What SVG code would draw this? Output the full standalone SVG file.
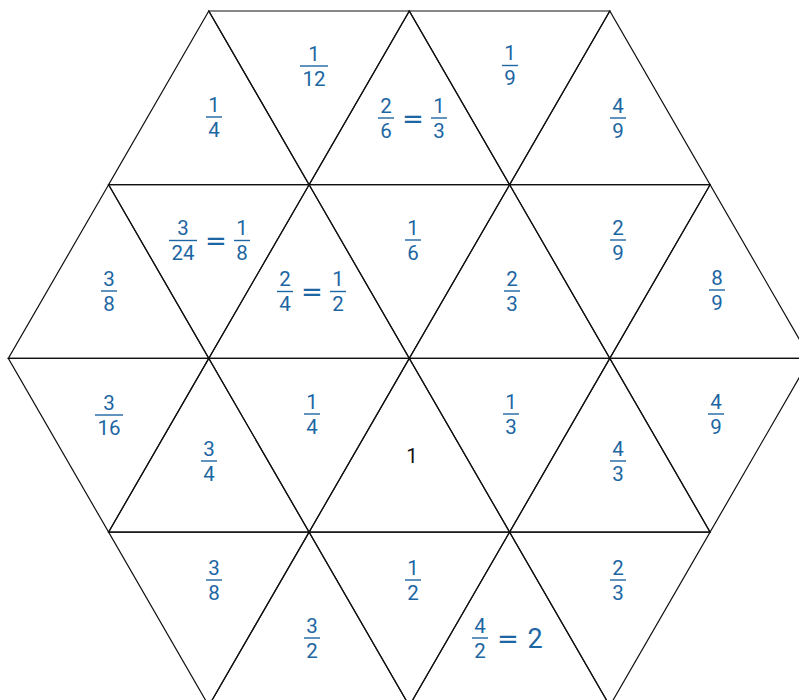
<svg xmlns="http://www.w3.org/2000/svg" width="799" height="700" viewBox="0 0 799 700">
<style>
.tri{fill:none;stroke:#111;stroke-width:1.2;stroke-linejoin:miter}
.f{font-family:Roboto,"Liberation Sans",sans-serif;font-size:20.5px;fill:#1c66a3;text-anchor:middle}
.eq{font-family:"DejaVu Sans",sans-serif;font-size:26px;fill:#1c66a3;text-anchor:middle}
.big{font-family:Roboto,"Liberation Sans",sans-serif;font-size:27px;fill:#1c66a3;text-anchor:middle}
.k{font-family:Roboto,"Liberation Sans",sans-serif;font-size:20.5px;fill:#111;text-anchor:middle}
.bar{stroke:#1c66a3;stroke-width:1.4}
</style>
<rect width="799" height="700" fill="#fff"/>
<g id="row0">
<g id="t0a"><polygon class="tri" points="208.8,11 108.6,184.7 309.1,184.7"/><g transform="translate(214,117)"><text class="f" y="-5.5">1</text><line class="bar" x1="-8" x2="8"/><text class="f" y="19.5">4</text></g></g>
<g id="t0b"><polygon class="tri" points="208.8,11 409.3,11 309.1,184.7"/><g transform="translate(314,66)"><text class="f" y="-5.5">1</text><line class="bar" x1="-14" x2="14"/><text class="f" y="19.5">12</text></g></g>
<g id="t0c"><polygon class="tri" points="409.3,11 309.1,184.7 509.6,184.7"/><g transform="translate(386,118)"><text class="f" y="-5.5">2</text><line class="bar" x1="-8" x2="8"/><text class="f" y="19.5">6</text></g><text class="eq" x="413" y="127.5">=</text><g transform="translate(439,118)"><text class="f" y="-5.5">1</text><line class="bar" x1="-8" x2="8"/><text class="f" y="19.5">3</text></g></g>
<g id="t0d"><polygon class="tri" points="409.3,11 609.8,11 509.6,184.7"/><g transform="translate(510,65.5)"><text class="f" y="-5.5">1</text><line class="bar" x1="-8" x2="8"/><text class="f" y="19.5">9</text></g></g>
<g id="t0e"><polygon class="tri" points="609.8,11 509.6,184.7 710.1,184.7"/><g transform="translate(618,118)"><text class="f" y="-5.5">4</text><line class="bar" x1="-8" x2="8"/><text class="f" y="19.5">9</text></g></g>
</g>
<g id="row1">
<g id="t1a"><polygon class="tri" points="108.6,184.7 8.3,358.4 208.8,358.4"/><g transform="translate(109,291)"><text class="f" y="-5.5">3</text><line class="bar" x1="-8" x2="8"/><text class="f" y="19.5">8</text></g></g>
<g id="t1b"><polygon class="tri" points="108.6,184.7 309.1,184.7 208.8,358.4"/><g transform="translate(183,240.5)"><text class="f" y="-5.5">3</text><line class="bar" x1="-14" x2="14"/><text class="f" y="19.5">24</text></g><text class="eq" x="216" y="250">=</text><g transform="translate(242,240.5)"><text class="f" y="-5.5">1</text><line class="bar" x1="-8" x2="8"/><text class="f" y="19.5">8</text></g></g>
<g id="t1c"><polygon class="tri" points="309.1,184.7 208.8,358.4 409.3,358.4"/><g transform="translate(285,291.5)"><text class="f" y="-5.5">2</text><line class="bar" x1="-8" x2="8"/><text class="f" y="19.5">4</text></g><text class="eq" x="312" y="301">=</text><g transform="translate(338,291.5)"><text class="f" y="-5.5">1</text><line class="bar" x1="-8" x2="8"/><text class="f" y="19.5">2</text></g></g>
<g id="t1d"><polygon class="tri" points="309.1,184.7 509.6,184.7 409.3,358.4"/><g transform="translate(413,240)"><text class="f" y="-5.5">1</text><line class="bar" x1="-8" x2="8"/><text class="f" y="19.5">6</text></g></g>
<g id="t1e"><polygon class="tri" points="509.6,184.7 409.3,358.4 609.8,358.4"/><g transform="translate(512,291)"><text class="f" y="-5.5">2</text><line class="bar" x1="-8" x2="8"/><text class="f" y="19.5">3</text></g></g>
<g id="t1f"><polygon class="tri" points="509.6,184.7 710.1,184.7 609.8,358.4"/><g transform="translate(618,240)"><text class="f" y="-5.5">2</text><line class="bar" x1="-8" x2="8"/><text class="f" y="19.5">9</text></g></g>
<g id="t1g"><polygon class="tri" points="710.1,184.7 609.8,358.4 810.3,358.4"/><g transform="translate(717,290)"><text class="f" y="-5.5">8</text><line class="bar" x1="-8" x2="8"/><text class="f" y="19.5">9</text></g></g>
</g>
<g id="row2">
<g id="t2a"><polygon class="tri" points="8.3,358.4 208.8,358.4 108.6,532.1"/><g transform="translate(109,415)"><text class="f" y="-5.5">3</text><line class="bar" x1="-14" x2="14"/><text class="f" y="19.5">16</text></g></g>
<g id="t2b"><polygon class="tri" points="208.8,358.4 108.6,532.1 309.1,532.1"/><g transform="translate(209,461)"><text class="f" y="-5.5">3</text><line class="bar" x1="-8" x2="8"/><text class="f" y="19.5">4</text></g></g>
<g id="t2c"><polygon class="tri" points="208.8,358.4 409.3,358.4 309.1,532.1"/><g transform="translate(312,414)"><text class="f" y="-5.5">1</text><line class="bar" x1="-8" x2="8"/><text class="f" y="19.5">4</text></g></g>
<g id="t2d"><polygon class="tri" points="409.3,358.4 309.1,532.1 509.6,532.1"/><text class="k" x="412" y="463">1</text></g>
<g id="t2e"><polygon class="tri" points="409.3,358.4 609.8,358.4 509.6,532.1"/><g transform="translate(511,414)"><text class="f" y="-5.5">1</text><line class="bar" x1="-8" x2="8"/><text class="f" y="19.5">3</text></g></g>
<g id="t2f"><polygon class="tri" points="609.8,358.4 509.6,532.1 710.1,532.1"/><g transform="translate(618,461)"><text class="f" y="-5.5">4</text><line class="bar" x1="-8" x2="8"/><text class="f" y="19.5">3</text></g></g>
<g id="t2g"><polygon class="tri" points="609.8,358.4 810.3,358.4 710.1,532.1"/><g transform="translate(716,414)"><text class="f" y="-5.5">4</text><line class="bar" x1="-8" x2="8"/><text class="f" y="19.5">9</text></g></g>
</g>
<g id="row3">
<g id="t3a"><polygon class="tri" points="108.6,532.1 309.1,532.1 208.8,705.8"/><g transform="translate(214,580)"><text class="f" y="-5.5">3</text><line class="bar" x1="-8" x2="8"/><text class="f" y="19.5">8</text></g></g>
<g id="t3b"><polygon class="tri" points="309.1,532.1 208.8,705.8 409.3,705.8"/><g transform="translate(312,638)"><text class="f" y="-5.5">3</text><line class="bar" x1="-8" x2="8"/><text class="f" y="19.5">2</text></g></g>
<g id="t3c"><polygon class="tri" points="309.1,532.1 509.6,532.1 409.3,705.8"/><g transform="translate(413,580)"><text class="f" y="-5.5">1</text><line class="bar" x1="-8" x2="8"/><text class="f" y="19.5">2</text></g></g>
<g id="t3d"><polygon class="tri" points="509.6,532.1 409.3,705.8 609.8,705.8"/><g transform="translate(480,638)"><text class="f" y="-5.5">4</text><line class="bar" x1="-8" x2="8"/><text class="f" y="19.5">2</text></g><text class="eq" x="508" y="647.5">=</text><text class="big" x="535" y="647.5">2</text></g>
<g id="t3e"><polygon class="tri" points="509.6,532.1 710.1,532.1 609.8,705.8"/><g transform="translate(618,580)"><text class="f" y="-5.5">2</text><line class="bar" x1="-8" x2="8"/><text class="f" y="19.5">3</text></g></g>
</g>
</svg>
